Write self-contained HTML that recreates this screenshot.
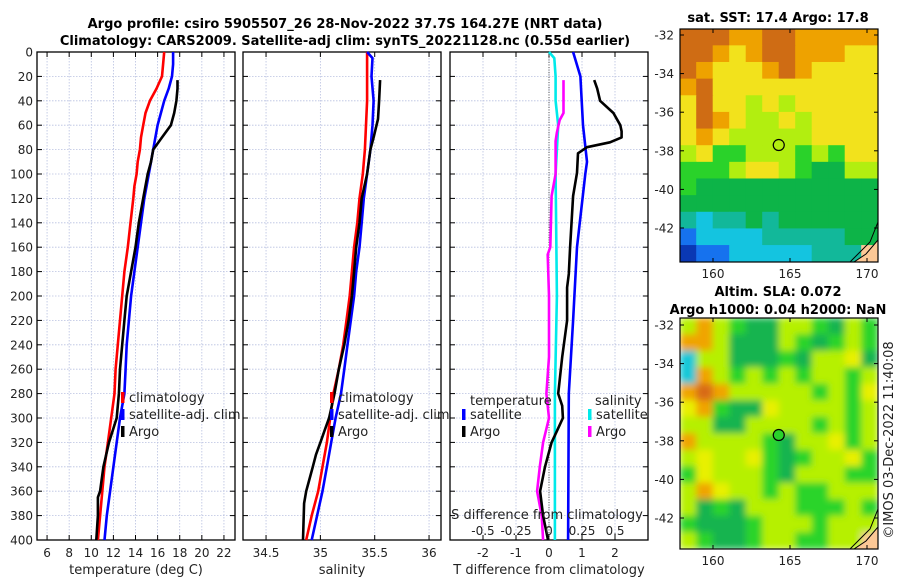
<!DOCTYPE html>
<html><head><meta charset="utf-8"><style>
html,body{margin:0;padding:0;background:#fff;}
svg{display:block;font-family:"DejaVu Sans","Liberation Sans",sans-serif;}
</style></head><body>
<svg id="fig" width="900" height="580" viewBox="0 0 900 580" xmlns="http://www.w3.org/2000/svg">
<defs><filter id="bl" x="0" y="0" width="1" height="1"><feGaussianBlur stdDeviation="3.5"/></filter>
<clipPath id="c1"><rect x="680" y="29" width="198" height="233"/></clipPath>
<clipPath id="c2"><rect x="680" y="318" width="198" height="231"/></clipPath></defs>
<text x="345" y="28" text-anchor="middle" font-size="13" font-weight="bold">Argo profile: csiro 5905507_26 28-Nov-2022 37.7S 164.27E (NRT data)</text>
<text x="345" y="45" text-anchor="middle" font-size="13" font-weight="bold">Climatology: CARS2009. Satellite-adj clim: synTS_20221128.nc (0.55d earlier)</text>
<text x="778" y="22" text-anchor="middle" font-size="13" font-weight="bold">sat. SST: 17.4 Argo: 17.8</text>
<text x="778" y="296" text-anchor="middle" font-size="13" font-weight="bold">Altim. SLA: 0.072</text>
<text x="778" y="314" text-anchor="middle" font-size="13" font-weight="bold">Argo h1000: 0.04 h2000: NaN</text>
<text transform="translate(893,440) rotate(-90)" text-anchor="middle" font-size="13" fill="#222">©IMOS 03-Dec-2022 11:40:08</text>
<g id="plots"></g>
</svg>
<script>
const climTDepth=[0,10,20,30,40,50,60,70,80,90,100,110,120,140,160,180,200,220,240,260,280,300,320,340,360,380,400];
const climT=[16.6,16.5,16.4,15.9,15.3,14.9,14.7,14.5,14.4,14.2,14.1,13.9,13.8,13.55,13.3,13.0,12.8,12.6,12.4,12.2,12.1,11.8,11.5,11.2,11.0,10.8,10.6];
const satTDepth=[0,10,20,30,40,50,60,70,80,100,120,140,160,180,200,220,240,260,280,300,320,340,360,380,400];
const satT=[17.4,17.4,17.3,17.0,16.6,16.3,16.0,15.8,15.6,15.2,14.8,14.5,14.2,13.9,13.6,13.4,13.2,13.1,13.0,12.6,12.3,12.0,11.7,11.4,11.2];
const argoTDepth=[23,30,40,50,60,70,75,80,90,100,120,140,160,180,200,220,240,260,280,300,320,340,360,365,380,400];
const argoT=[17.8,17.8,17.7,17.5,17.2,16.4,16.0,15.6,15.4,15.1,14.7,14.3,14.0,13.6,13.2,13.0,12.8,12.6,12.5,12.3,11.6,11.1,10.8,10.6,10.6,10.45];
const climSDepth=[0,20,40,60,80,100,120,140,160,180,200,220,240,260,280,300,320,340,360,380,400];
const climS=[35.43,35.43,35.43,35.42,35.41,35.39,35.36,35.34,35.31,35.29,35.27,35.24,35.21,35.17,35.12,35.09,35.06,35.02,34.98,34.92,34.87];
const satSDepth=[0,5,20,40,60,80,100,120,140,160,180,200,220,240,260,280,300,320,340,360,380,400];
const satS=[35.43,35.48,35.47,35.49,35.48,35.46,35.43,35.40,35.38,35.36,35.33,35.31,35.28,35.25,35.22,35.19,35.14,35.10,35.06,35.02,34.97,34.92];
const argoSDepth=[23,40,55,70,80,100,120,140,160,180,200,220,240,260,280,300,310,320,330,340,350,360,370,400];
const argoS=[35.55,35.54,35.53,35.49,35.46,35.43,35.38,35.36,35.33,35.31,35.29,35.26,35.22,35.17,35.13,35.08,35.04,35.00,34.96,34.93,34.90,34.87,34.85,34.84];
const satDTDepth=[0,20,60,90,100,160,220,280,400];
const satDT=[0.73,0.95,1.03,1.15,1.1,0.85,0.73,0.6,0.58];
const argoDTDepth=[23,30,40,50,60,65,70,74,78,83,99,118,160,182,193,220,250,280,290,300,310,320,330,340,360,380,400];
const argoDT=[1.37,1.46,1.55,1.95,2.16,2.2,2.2,1.85,1.15,0.88,0.85,0.73,0.64,0.6,0.55,0.55,0.4,0.28,0.4,0.42,0.25,0.08,-0.02,-0.12,-0.27,-0.18,-0.03];
const satDSDepth=[0,5,20,40,60,100,200,280,400];
const satDS=[0,0.04,0.05,0.05,0.07,0.05,0.06,0.045,0.045];
const argoDSDepth=[23,50,56,66,73,100,118,138,160,166,200,250,280,300,320,340,360,380,400];
const argoDS=[0.11,0.11,0.08,0.06,0.05,0.05,0.02,0.015,0.01,-0.01,0,0,-0.02,0,-0.045,-0.07,-0.09,-0.055,-0.045];
const depthTicks=[0,20,40,60,80,100,120,140,160,180,200,220,240,260,280,300,320,340,360,380,400];
const tTicks=[6,8,10,12,14,16,18,20,22];
const sTicks=[34.5,35,35.5,36];
const dTTicks=[-2,-1,0,1,2];
const dSTicks=[-0.5,-0.25,0,0.25,0.5];

const NS="http://www.w3.org/2000/svg";
const root=document.getElementById('plots');
function mk(tag,attrs,parent){const e=document.createElementNS(NS,tag);for(const k in attrs)e.setAttribute(k,attrs[k]);(parent||root).appendChild(e);return e;}
const Y0=52,Y1=540;
const yD=d=>Y0+d*(Y1-Y0)/400;
function lin(d0,d1,r0,r1){return v=>r0+(v-d0)*(r1-r0)/(d1-d0);}
const panels=[
 {x0:37,x1:235,sx:lin(5.09,23,37,235),ticks:tTicks,label:'temperature (deg C)',name:'temperature-panel'},
 {x0:243,x1:441,sx:lin(34.288,36.11,243,441),ticks:sTicks,label:'salinity',name:'salinity-panel'},
 {x0:450,x1:648,sx:lin(-3,3,450,648),ticks:dTTicks,label:'T difference from climatology',name:'difference-panel'}
];
panels.forEach((p,pi)=>{
 const g=mk('g',{});
 
 
 p.ticks.forEach(t=>{const x=p.sx(t);
  const l=mk('line',{x1:x,x2:x,y1:Y0,y2:Y1,stroke:'#b8c0e0','stroke-width':0.8,'stroke-dasharray':'1.5,1.5'},g);
  
  mk('line',{x1:x,x2:x,y1:Y1,y2:Y1-5,stroke:'#000'},g);mk('line',{x1:x,x2:x,y1:Y0,y2:Y0+5,stroke:'#000'},g);
  const tx=mk('text',{x:x,y:557,'text-anchor':'middle','font-size':12,fill:'#222'},g);tx.textContent=t;
  
 });
 depthTicks.forEach(d=>{const y=yD(d);
  const l=mk('line',{x1:p.x0,x2:p.x1,y1:y,y2:y,stroke:'#b8c0e0','stroke-width':0.8,'stroke-dasharray':'1.5,1.5'},g);
  
  mk('line',{x1:p.x0,x2:p.x0+5,y1:y,y2:y,stroke:'#000'},g);mk('line',{x1:p.x1,x2:p.x1-5,y1:y,y2:y,stroke:'#000'},g);
  if(pi===0){const tx=mk('text',{x:33,y:y+4.5,'text-anchor':'end','font-size':12,fill:'#222'},g);tx.textContent=d;
   }
 });
 const fr=mk('rect',{x:p.x0,y:Y0,width:p.x1-p.x0,height:Y1-Y0,fill:'none',stroke:'#000','stroke-width':1.3},g);
 
 const xl=mk('text',{x:(p.x0+p.x1)/2,y:574,'text-anchor':'middle','font-size':13,fill:'#222'},g);xl.textContent=p.label;
 
});
function line(depths,vals,sx,color,name){
 const pts=depths.map((d,i)=>sx(vals[i]).toFixed(1)+','+yD(d).toFixed(1)).join(' ');
 const pl=mk('polyline',{points:pts,fill:'none',stroke:color,'stroke-width':2.6,'stroke-linejoin':'round'});
 
 
}
const z=mk('line',{x1:549,x2:549,y1:Y0,y2:Y1,stroke:'#555','stroke-width':1,'stroke-dasharray':'1,1.5'});

const p1=panels[0].sx,p2=panels[1].sx,p3=panels[2].sx,pS=lin(-0.75,0.75,450,648);
line(climTDepth,climT,p1,'#f00','climatology-temperature-line');
line(satTDepth,satT,p1,'#00f','satellite-temperature-line');
line(argoTDepth,argoT,p1,'#000','argo-temperature-line');
line(climSDepth,climS,p2,'#f00','climatology-salinity-line');
line(satSDepth,satS,p2,'#00f','satellite-salinity-line');
line(argoSDepth,argoS,p2,'#000','argo-salinity-line');
line(satDSDepth,satDS,pS,'#00eaea','satellite-salinity-diff-line');
line(argoDSDepth,argoDS,pS,'#f0f','argo-salinity-diff-line');
line(satDTDepth,satDT,p3,'#00f','satellite-temperature-diff-line');
line(argoDTDepth,argoDT,p3,'#000','argo-temperature-diff-line');
const sl=mk('text',{x:547,y:519,'text-anchor':'middle','font-size':13,fill:'#222'});sl.textContent='S difference from climatology';

dSTicks.forEach(t=>{const tx=mk('text',{x:pS(t),y:535,'text-anchor':'middle','font-size':12,fill:'#222'});tx.textContent=t;
 });
function legend(x,y,color,label,name){
 const r=mk('rect',{x:x,y:y-9,width:3.5,height:11,fill:color});
 const t=mk('text',{x:x+8,y:y+1,'font-size':13,fill:'#222'});t.textContent=label;
 
 
}
legend(121,401,'#f00','climatology','legend-climatology');
legend(121,418,'#00f','satellite-adj. clim','legend-satellite');
legend(121,435,'#000','Argo','legend-argo');
legend(330,401,'#f00','climatology','legend-climatology-s');
legend(330,418,'#00f','satellite-adj. clim','legend-satellite-s');
legend(330,435,'#000','Argo','legend-argo-s');
const lt=mk('text',{x:470,y:405,'font-size':13,fill:'#222'});lt.textContent='temperature';

const ls=mk('text',{x:595,y:405,'font-size':13,fill:'#222'});ls.textContent='salinity';

legend(462,418,'#00f','satellite','legend-t-satellite');
legend(462,435,'#000','Argo','legend-t-argo');
legend(588,418,'#00eaea','satellite','legend-s-satellite');
legend(588,435,'#f0f','Argo','legend-s-argo');

const pal={O:'#cf6c14',o:'#eea200',y:'#f2e21c',l:'#b2ee10',g:'#2ad22a',G:'#0db448',t:'#12b89a',c:'#14c4e0',b:'#1672ee',B:'#0a38b4',s:'#fcc896'};
const sstGrid=["OOOooOOooooo","OOoyoOOoooyy","OoyyyoOoyyyy","oOyyyyyyyyyy","yOyylylyyyyy","yOoyllylyyyy","yoylllllyyyy","lygglllglgyy","ggglyylgGGll","gGGGGGGGGGGG","GGGGGGGGGGGG","tcttGtGGGGGG","bcccctttttGG","Bbbcccccttts"];
const slaPal={O:'#d86a18',o:'#f0a400',y:'#e8f000',l:'#b6f000',g:'#2cd42c',G:'#14b450',c:'#18c8d8',s:'#fcc896'};
const slaGrid=["lolgGGllgGlg","oolGGGlgGglg","cllGGGgGllyG","colglglgllgl","oOolllllglgy","yogGGyllllgl","llGGllllglgl","ollllgGllygl","lyllygGgllyg","gylllgGlllgg","loyllglgglll","lGgGlllggglg","gGGGglllglll","lgGGgllgglls"];
function drawMap(grid,palette,x0,y0,w,h,clip,blur,name){
 const g=mk('g',{'clip-path':'url(#'+clip+')'});
 
 const inner=mk('g',blur?{filter:'url(#bl)'}:{},g);
 const rows=grid.length,cols=grid[0].length,cw=w/cols,ch=h/rows;
 mk('rect',{x:x0,y:y0,width:w,height:h,fill:palette.l},inner);
 grid.forEach((r,i)=>{[...r].forEach((k,j)=>{mk('rect',{x:x0+j*cw-0.3,y:y0+i*ch-0.3,width:cw+0.6,height:ch+0.6,fill:palette[k]},inner);});});
 mk('polygon',{points:`${x0+w},${y0+h-22} ${x0+w-12},${y0+h-8} ${x0+w-24},${y0+h} ${x0+w},${y0+h}`,fill:'#fcc896',stroke:'#000','stroke-width':1},g);
 mk('polyline',{points:`${x0+w},${y0+h-40} ${x0+w-8},${y0+h-20} ${x0+w-18},${y0+h-10} ${x0+w-28},${y0+h}`,fill:'none',stroke:'#000','stroke-width':1},g);
}
drawMap(sstGrid,pal,680,29,198,233,'c1',false,'sst-map');
drawMap(slaGrid,slaPal,680,318,198,231,'c2',true,'sla-map');
const lonX=lin(160,170,713,867);
function mapAxes(y0,y1,latY,name){
 const g=mk('g',{});
 mk('rect',{x:680,y:y0,width:198,height:y1-y0,fill:'none',stroke:'#000','stroke-width':1.2},g);
 [160,165,170].forEach(l=>{const x=lonX(l);mk('line',{x1:x,x2:x,y1:y1,y2:y1-4,stroke:'#000'},g);mk('line',{x1:x,x2:x,y1:y0,y2:y0+4,stroke:'#000'},g);
  const t=mk('text',{x:x,y:y1+16,'text-anchor':'middle','font-size':12,fill:'#222'},g);t.textContent=l;});
 [-32,-34,-36,-38,-40,-42].forEach(l=>{const y=latY(l);mk('line',{x1:680,x2:684,y1:y,y2:y,stroke:'#000'},g);mk('line',{x1:878,x2:874,y1:y,y2:y,stroke:'#000'},g);
  const t=mk('text',{x:674,y:y+4.5,'text-anchor':'end','font-size':12,fill:'#222'},g);t.textContent=l;});
}
const lat1=lin(-32,-42,35,228),lat2=lin(-32,-42,325,518);
mapAxes(29,262,lat1,'sst-map-axes');
mapAxes(318,549,lat2,'sla-map-axes');
const m1=mk('circle',{cx:lonX(164.27),cy:lat1(-37.7),r:5.5,fill:'none',stroke:'#000','stroke-width':1.2});

const m2=mk('circle',{cx:lonX(164.27),cy:lat2(-37.7),r:5.5,fill:'#2ad22a',stroke:'#000','stroke-width':1.2});

</script>
</body></html>
